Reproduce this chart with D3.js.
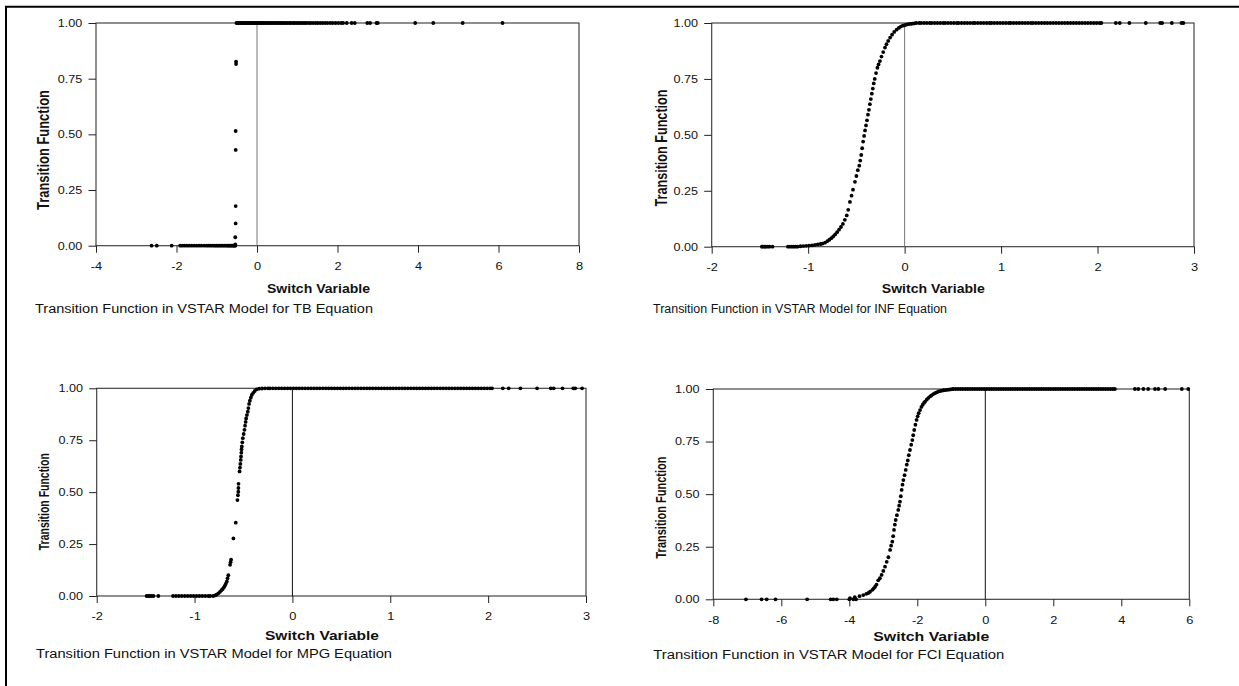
<!DOCTYPE html>
<html>
<head>
<meta charset="utf-8">
<script src="https://cdn.jsdelivr.net/npm/d3@7"></script>
<style>
	body { margin: 0; background: #fff; }
	text { font-family: Arial, "Liberation Sans", sans-serif; fill: #111; }
</style>
</head>
<body>
<svg id="chart" width="1239" height="686"></svg>
<script>

// values
var yTicks = [0, 0.25, 0.5, 0.75, 1];

// TB equation
var tbTicks = [-4, -2, 0, 2, 4, 6, 8];
var tbBottom = [-2.62,-2.49,-2.12,-1.91,-1.86,-1.8,-1.74,-1.68,-1.62,-1.56,-1.5,-1.44,-1.38,-1.31,-1.25,-1.2,-1.15,-1.1,-1.05,-1.01,-0.97,-0.93,-0.89,-0.85,-0.81,-0.77,-0.73,-0.7,-0.67,-0.64,-0.61,-0.58,-0.56,-0.54];
var tbRise = [[-0.54,0.006],[-0.54,0.038],[-0.53,0.1],[-0.53,0.178],[-0.53,0.43],[-0.53,0.515],[-0.52,0.816],[-0.52,0.826]];
var tbTop = [-0.51,-0.49,-0.46,-0.43,-0.4,-0.37,-0.34,-0.31,-0.28,-0.25,-0.22,-0.19,-0.16,-0.13,-0.1,-0.07,-0.04,-0.01,0.02,0.05,0.09,0.12,0.16,0.19,0.23,0.27,0.3,0.34,0.38,0.42,0.46,0.5,0.54,0.58,0.62,0.66,0.71,0.75,0.8,0.84,0.89,0.93,0.98,1.03,1.08,1.13,1.18,1.23,1.29,1.34,1.4,1.46,1.51,1.57,1.63,1.69,1.75,1.82,1.88,1.95,2.02,2.09,2.14,2.23,2.35,2.43,2.74,2.81,2.97,3.0,3.93,4.38,5.11,6.1];

// INF equation
var infTicks = [-2, -1, 0, 1, 2, 3];
var infBottom = [-1.48,-1.47,-1.45,-1.44,-1.42,-1.4,-1.37,-1.21,-1.19,-1.17,-1.15,-1.13,-1.11];
var infRise = [[-1.08,0.002],[-1.05,0.003],[-1.02,0.004],[-0.99,0.005],[-0.96,0.006],[-0.93,0.008],[-0.9,0.01],[-0.87,0.012],[-0.85,0.014],[-0.825,0.018],[-0.8,0.025],[-0.78,0.031],[-0.76,0.038],[-0.74,0.046],[-0.72,0.055],[-0.7,0.065],[-0.68,0.076],[-0.66,0.088],[-0.64,0.102],[-0.62,0.12],[-0.6,0.14],[-0.585,0.165],[-0.567,0.2],[-0.55,0.228],[-0.535,0.255],[-0.515,0.29],[-0.5,0.316],[-0.485,0.342],[-0.47,0.362],[-0.46,0.385],[-0.45,0.41],[-0.44,0.44],[-0.43,0.47],[-0.42,0.495],[-0.41,0.52],[-0.4,0.542],[-0.39,0.565],[-0.38,0.59],[-0.37,0.612],[-0.36,0.637],[-0.35,0.66],[-0.34,0.684],[-0.33,0.707],[-0.32,0.73],[-0.31,0.75],[-0.296,0.776],[-0.282,0.8],[-0.27,0.815],[-0.256,0.83],[-0.24,0.85],[-0.222,0.87],[-0.204,0.89],[-0.188,0.905],[-0.17,0.92],[-0.15,0.935],[-0.13,0.948],[-0.108,0.96],[-0.083,0.97],[-0.06,0.978],[-0.04,0.984],[-0.02,0.988],[0.0,0.99],[0.02,0.993],[0.04,0.995],[0.06,0.996],[0.08,0.997],[0.1,0.998]];
var infTop = [0.12,0.15,0.17,0.2,0.23,0.26,0.28,0.31,0.34,0.37,0.4,0.42,0.45,0.48,0.51,0.54,0.56,0.59,0.62,0.65,0.68,0.71,0.73,0.76,0.79,0.82,0.85,0.88,0.9,0.93,0.96,0.99,1.02,1.05,1.08,1.1,1.13,1.16,1.19,1.22,1.25,1.28,1.31,1.33,1.36,1.39,1.42,1.45,1.48,1.51,1.54,1.57,1.6,1.63,1.66,1.69,1.72,1.75,1.78,1.81,1.84,1.87,1.9,1.93,1.96,1.99,2.02,2.04,2.19,2.23,2.33,2.5,2.65,2.67,2.77,2.87,2.89];

// MPG equation
var mpgTicks = [-2, -1, 0, 1, 2, 3];
var mpgBottom = [-1.49,-1.47,-1.46,-1.44,-1.42,-1.37,-1.22,-1.19,-1.16,-1.13,-1.1,-1.07,-1.04,-1.01,-0.98,-0.95,-0.92,-0.89,-0.86,-0.84,-0.81];
var mpgRise = [[-0.79,0.003],[-0.775,0.006],[-0.757,0.013],[-0.74,0.02],[-0.725,0.028],[-0.712,0.034],[-0.7,0.042],[-0.69,0.05],[-0.68,0.06],[-0.67,0.07],[-0.663,0.085],[-0.655,0.1],[-0.637,0.15],[-0.632,0.163],[-0.627,0.175],[-0.603,0.277],[-0.579,0.353],[-0.562,0.462],[-0.557,0.485],[-0.553,0.502],[-0.552,0.52],[-0.551,0.54],[-0.54,0.6],[-0.536,0.618],[-0.532,0.636],[-0.528,0.655],[-0.525,0.672],[-0.522,0.69],[-0.52,0.706],[-0.517,0.72],[-0.512,0.74],[-0.507,0.76],[-0.498,0.78],[-0.49,0.8],[-0.484,0.82],[-0.478,0.838],[-0.473,0.855],[-0.465,0.871],[-0.456,0.887],[-0.45,0.905],[-0.443,0.925],[-0.435,0.94],[-0.425,0.955],[-0.415,0.968],[-0.4,0.978],[-0.385,0.987],[-0.364,0.995],[-0.34,0.998],[-0.31,0.999]];
var mpgTop = [-0.28,-0.25,-0.23,-0.2,-0.17,-0.14,-0.11,-0.08,-0.05,-0.02,0.01,0.04,0.07,0.1,0.13,0.16,0.19,0.22,0.25,0.28,0.31,0.34,0.37,0.4,0.43,0.46,0.49,0.52,0.55,0.58,0.61,0.64,0.67,0.7,0.73,0.76,0.79,0.82,0.85,0.88,0.91,0.94,0.97,1.0,1.03,1.06,1.09,1.12,1.15,1.18,1.21,1.24,1.27,1.3,1.33,1.36,1.39,1.42,1.45,1.48,1.51,1.54,1.57,1.6,1.63,1.66,1.69,1.72,1.75,1.78,1.81,1.84,1.87,1.9,1.93,1.96,1.99,2.02,2.04,2.15,2.21,2.33,2.5,2.64,2.67,2.76,2.87,2.89,2.96];

// FCI equation
var fciTicks = [-8, -6, -4, -2, 0, 2, 4, 6];
var fciBottom = [-7.04,-6.58,-6.43,-6.17,-5.24,-4.55,-4.47,-4.37,-4.0,-3.88,-3.8];
var fciRise = [[-3.98,0.005],[-3.84,0.01],[-3.7,0.015],[-3.59,0.02],[-3.5,0.026],[-3.44,0.03],[-3.39,0.036],[-3.32,0.045],[-3.28,0.052],[-3.24,0.06],[-3.2,0.07],[-3.15,0.09],[-3.1,0.1],[-3.05,0.116],[-3.0,0.135],[-2.95,0.155],[-2.9,0.178],[-2.85,0.2],[-2.8,0.235],[-2.77,0.255],[-2.735,0.274],[-2.71,0.3],[-2.685,0.33],[-2.66,0.355],[-2.635,0.377],[-2.6,0.4],[-2.56,0.425],[-2.535,0.445],[-2.51,0.464],[-2.485,0.49],[-2.46,0.52],[-2.435,0.545],[-2.41,0.567],[-2.375,0.59],[-2.34,0.615],[-2.31,0.64],[-2.28,0.66],[-2.25,0.685],[-2.215,0.71],[-2.18,0.735],[-2.146,0.757],[-2.12,0.78],[-2.09,0.805],[-2.055,0.83],[-2.02,0.853],[-1.99,0.87],[-1.96,0.885],[-1.92,0.9],[-1.88,0.915],[-1.84,0.925],[-1.8,0.935],[-1.77,0.94],[-1.72,0.95],[-1.67,0.958],[-1.62,0.965],[-1.58,0.97],[-1.53,0.976],[-1.48,0.98],[-1.43,0.984],[-1.38,0.988],[-1.33,0.99],[-1.28,0.992],[-1.23,0.994],[-1.18,0.995],[-1.13,0.996],[-1.08,0.997],[-1.03,0.998],[-0.98,0.999]];
var fciTop = [-0.94,-0.87,-0.8,-0.73,-0.66,-0.59,-0.52,-0.45,-0.38,-0.31,-0.24,-0.17,-0.1,-0.03,0.04,0.11,0.18,0.25,0.32,0.39,0.46,0.53,0.6,0.67,0.74,0.81,0.88,0.95,1.02,1.09,1.16,1.23,1.3,1.37,1.44,1.51,1.58,1.65,1.72,1.79,1.86,1.93,2.0,2.07,2.14,2.21,2.28,2.35,2.42,2.49,2.56,2.63,2.7,2.77,2.84,2.91,2.98,3.05,3.12,3.19,3.26,3.33,3.4,3.47,3.54,3.61,3.68,3.75,3.81,4.4,4.5,4.65,4.79,4.99,5.09,5.29,5.78,5.97];

var svg = d3.select('#chart');

// outer frame (only left and top edges fall inside the picture)
svg.append('path')
	.attr('d', 'M6,700V6.7H1250')
	.attr('fill', 'none')
	.attr('stroke', '#000')
	.attr('stroke-width', 2);

var panels = [
	{ eq: 'TB', ticks: tbTicks, bottomX: tbBottom, rise: tbRise, topX: tbTop,
	  box: [96, 579, 23, 245.7], zero: '#777',
	  ytitle: [43, 150, 17, 120], xtitle: [318.5, 292.5, 103], caption: [35, 312.5, 338] },
	{ eq: 'INF', ticks: infTicks, bottomX: infBottom, rise: infRise, topX: infTop,
	  box: [711.7, 1194, 23, 246.7], zero: '#777',
	  ytitle: [661.7, 148, 16.5, 117], xtitle: [933.3, 292.5, 103], caption: [653, 312.5, 294] },
	{ eq: 'MPG', ticks: mpgTicks, bottomX: mpgBottom, rise: mpgRise, topX: mpgTop,
	  box: [96.7, 586, 388.3, 596], zero: '#111',
	  ytitle: [43.5, 501.7, 15, 97], xtitle: [322, 639.5, 114], caption: [36, 658, 356] },
	{ eq: 'FCI', ticks: fciTicks, bottomX: fciBottom, rise: fciRise, topX: fciTop,
	  box: [713.3, 1189.3, 389, 599.3], zero: '#111',
	  ytitle: [661, 507.5, 15.5, 102], xtitle: [931.3, 640.5, 116], caption: [653.3, 658.5, 351] }
];

panels.forEach(draw_panel);

function draw_panel(p) {

	var left = p.box[0], right = p.box[1], top = p.box[2], bottom = p.box[3];
	var g = svg.append('g').attr('class', 'panel_' + p.eq);

	var x = d3.scaleLinear()
		.domain([p.ticks[0], p.ticks[p.ticks.length - 1]])
		.range([left, right]);

	var y = d3.scaleLinear()
		.domain([0, 1])
		.range([bottom, top]);

	g.append('rect')
		.attr('x', left)
		.attr('y', top)
		.attr('width', right - left)
		.attr('height', bottom - top)
		.attr('fill', 'none')
		.attr('stroke', '#333')
		.attr('stroke-width', 1.1);

	g.append('line')
		.attr('x1', x(0)).attr('x2', x(0))
		.attr('y1', y(1)).attr('y2', y(0))
		.attr('stroke', p.zero)
		.attr('stroke-width', 1);

	var xAxis = d3.axisBottom(x)
		.tickValues(p.ticks)
		.tickSize(7)
		.tickSizeOuter(0)
		.tickPadding(10)
		.tickFormat(function(d) { return String(d); });

	var gx = g.append('g')
		.attr('transform', 'translate(0,' + bottom + ')')
		.call(xAxis);
	gx.select('.domain').remove();
	gx.selectAll('line').attr('stroke', '#222');
	gx.selectAll('text')
		.attr('font-size', 10.5)
		.attr('fill', '#111')
		.attr('transform', 'scale(1.22,1)');

	var yAxis = d3.axisLeft(y)
		.tickValues(yTicks)
		.tickSize(7.5)
		.tickSizeOuter(0)
		.tickPadding(4)
		.tickFormat(d3.format('.2f'));

	var gy = g.append('g')
		.attr('transform', 'translate(' + left + ',0)')
		.call(yAxis);
	gy.select('.domain').remove();
	gy.selectAll('line').attr('stroke', '#222');
	gy.selectAll('text')
		.attr('font-size', 10.5)
		.attr('fill', '#111')
		.attr('transform', 'scale(1.2,1)');

	// axis titles and caption
	g.append('text')
		.attr('transform', 'translate(' + p.ytitle[0] + ',' + p.ytitle[1] + ') rotate(-90)')
		.attr('text-anchor', 'middle')
		.attr('dy', '0.35em')
		.attr('font-size', p.ytitle[2])
		.attr('font-weight', 'bold')
		.attr('textLength', p.ytitle[3])
		.attr('lengthAdjust', 'spacingAndGlyphs')
		.text('Transition Function');

	g.append('text')
		.attr('x', p.xtitle[0])
		.attr('y', p.xtitle[1])
		.attr('text-anchor', 'middle')
		.attr('font-size', 12)
		.attr('font-weight', 'bold')
		.attr('textLength', p.xtitle[2])
		.attr('lengthAdjust', 'spacingAndGlyphs')
		.text('Switch Variable');

	g.append('text')
		.attr('x', p.caption[0])
		.attr('y', p.caption[1])
		.attr('font-size', 12)
		.attr('fill', '#111')
		.attr('textLength', p.caption[2])
		.attr('lengthAdjust', 'spacingAndGlyphs')
		.text('Transition Function in VSTAR Model for ' + p.eq + ' Equation');

	// points
	var pts = p.bottomX.map(function(v) { return [v, 0]; })
		.concat(p.rise)
		.concat(p.topX.map(function(v) { return [v, 1]; }));

	g.append('g')
		.selectAll('circle')
		.data(pts)
		.enter()
		.append('circle')
		.attr('cx', function(d) { return x(d[0]); })
		.attr('cy', function(d) { return y(d[1]); })
		.attr('r', 1.9)
		.attr('fill', '#000');
}

</script>
</body>
</html>
